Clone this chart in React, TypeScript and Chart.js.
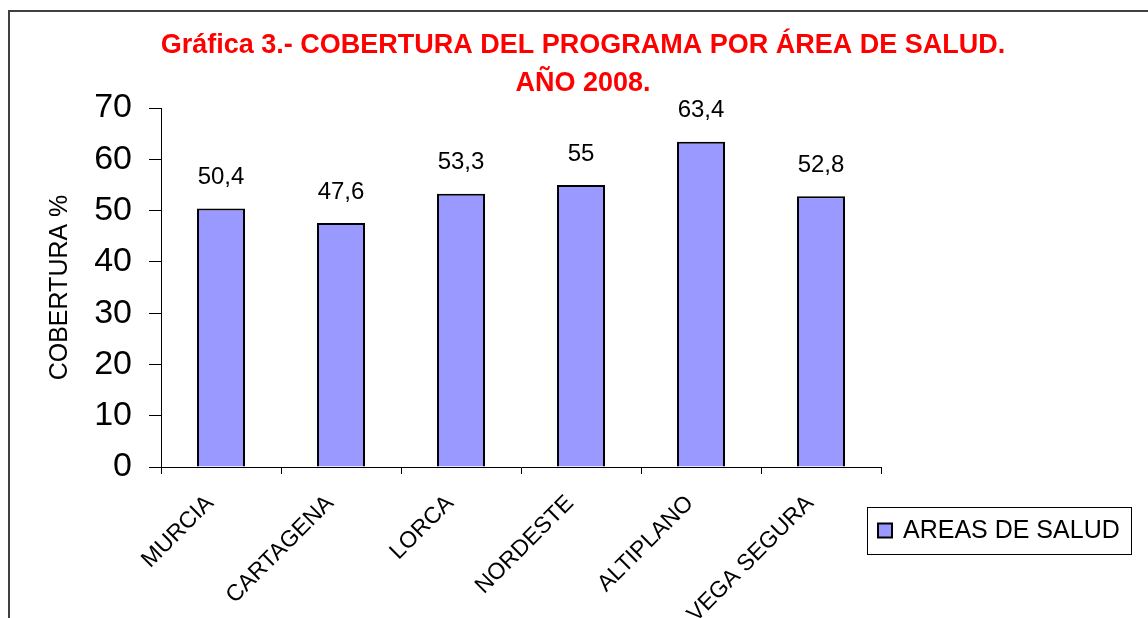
import React, { useEffect, useRef } from "react";
import { Chart, registerables } from "chart.js";

Chart.register(...registerables);

const categories = ["MURCIA", "CARTAGENA", "LORCA", "NORDESTE", "ALTIPLANO", "VEGA SEGURA"];
const coverage = [50.4, 47.6, 53.3, 55, 63.4, 52.8];
const seriesLabel = "AREAS DE SALUD";
const titleLines = ["Gráfica 3.- COBERTURA DEL PROGRAMA POR ÁREA DE SALUD.", "AÑO 2008."];
const yAxisTitle = "COBERTURA %";
const yMin = 0;
const yMax = 70;
const yStep = 10;

const BAR_COLOR = "#9999FF";
const FONT = "Arial, 'Liberation Sans', sans-serif";

const framePlugin = {
  id: "frame",
  beforeDraw(chart: any) {
    const ctx = chart.ctx;
    ctx.save();
    ctx.fillStyle = "#FFFFFF";
    ctx.fillRect(0, 0, chart.width, chart.height);
    ctx.fillStyle = "#404040";
    ctx.fillRect(8, 10, 2, chart.height);
    ctx.fillRect(8, 10, chart.width, 2);
    ctx.restore();
  },
};

const valueLabelPlugin = {
  id: "valueLabels",
  afterDatasetsDraw(chart: any) {
    const ctx = chart.ctx;
    const meta = chart.getDatasetMeta(0);
    const data = chart.data.datasets[0].data as number[];
    ctx.save();
    ctx.fillStyle = "#000000";
    ctx.font = `24px ${FONT}`;
    ctx.textAlign = "center";
    ctx.textBaseline = "middle";
    meta.data.forEach((bar: any, i: number) => {
      const txt = String(data[i]).replace(".", ",");
      ctx.fillText(txt, bar.x, bar.y - 31);
    });
    ctx.restore();
  },
};

const boxLegendPlugin = {
  id: "boxLegend",
  afterDraw(chart: any) {
    const ctx = chart.ctx;
    const ds = chart.data.datasets[0];
    const area = chart.chartArea;
    const left = area.right - 14;
    const top = area.bottom + 40;
    const w = 264;
    const h = 47;
    ctx.save();
    ctx.strokeStyle = "#000000";
    ctx.lineWidth = 1;
    ctx.strokeRect(left + 0.5, top + 0.5, w, h);
    const cy = top + h / 2;
    ctx.fillStyle = ds.backgroundColor;
    ctx.fillRect(left + 11, cy - 7, 14, 14);
    ctx.lineWidth = 2;
    ctx.strokeRect(left + 11, cy - 7, 14, 14);
    ctx.fillStyle = "#000000";
    ctx.font = `25px ${FONT}`;
    ctx.textAlign = "left";
    ctx.textBaseline = "middle";
    ctx.fillText(ds.label, left + 36, cy + 1);
    ctx.restore();
  },
};

export default function App() {
  const canvasRef = useRef<HTMLCanvasElement | null>(null);

  useEffect(() => {
    if (!canvasRef.current) return;
    const chart = new Chart(canvasRef.current, {
      type: "bar",
      data: {
        labels: categories,
        datasets: [
          {
            label: seriesLabel,
            data: coverage,
            backgroundColor: BAR_COLOR,
            borderColor: "#000000",
            borderWidth: 2,
            barPercentage: 0.8,
            categoryPercentage: 0.5,
          },
        ],
      },
      options: {
        animation: false,
        responsive: true,
        maintainAspectRatio: false,
        layout: { padding: { top: 12, left: 18, right: 0, bottom: 0 } },
        plugins: {
          legend: { display: false },
          tooltip: { enabled: false },
          title: {
            display: true,
            text: titleLines,
            color: "#FF0000",
            font: { family: FONT, size: 27, weight: "bold", lineHeight: 38 / 27 },
            padding: { top: 15, bottom: 5 },
          },
        },
        scales: {
          x: {
            grid: {
              display: true,
              drawOnChartArea: false,
              drawTicks: true,
              tickLength: 7,
              color: "#000000",
              tickColor: "#000000",
            },
            border: { display: true, color: "#000000", width: 1 },
            ticks: {
              color: "#000000",
              font: { family: FONT, size: 23 },
              maxRotation: 45,
              minRotation: 45,
              autoSkip: false,
              padding: 16,
              labelOffset: -11,
            },
            afterFit: (scale: any) => {
              scale.height = 151;
            },
          },
          y: {
            min: yMin,
            max: yMax,
            grid: {
              display: true,
              drawOnChartArea: false,
              drawTicks: true,
              tickLength: 12,
              color: "#000000",
              tickColor: "#000000",
            },
            border: { display: true, color: "#000000", width: 1 },
            ticks: {
              stepSize: yStep,
              color: "#000000",
              font: { family: FONT, size: 34 },
              padding: 17,
            },
            title: {
              display: true,
              text: yAxisTitle,
              color: "#000000",
              font: { family: FONT, size: 25, lineHeight: 1.2 },
              padding: { top: 27, bottom: 0 },
            },
            afterFit: (scale: any) => {
              scale.width = 143;
            },
          },
          legendSpace: {
            type: "linear",
            position: "right",
            display: true,
            grid: { display: false },
            border: { display: false },
            ticks: { display: false },
            afterFit: (scale: any) => {
              scale.width = 267;
            },
          },
        },
      },
      plugins: [framePlugin, valueLabelPlugin, boxLegendPlugin],
    } as any);
    return () => chart.destroy();
  }, []);

  return (
    <div style={{ position: "absolute", left: 0, top: 0, width: 1148, height: 618 }}>
      <canvas ref={canvasRef} />
    </div>
  );
}
